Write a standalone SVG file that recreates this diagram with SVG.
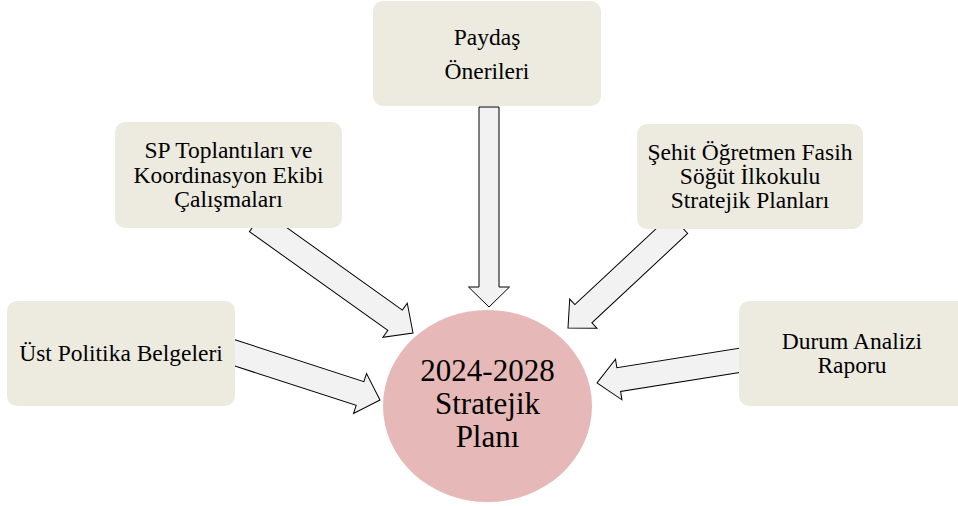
<svg xmlns="http://www.w3.org/2000/svg" width="958" height="506" viewBox="0 0 958 506">
<defs>
<style>
.box{fill:#EDEBE0;stroke:none}
.arrow{fill:#F2F2F2;stroke:#000;stroke-width:1;stroke-linejoin:miter}
.t{font-family:"Liberation Serif","Times New Roman",serif;font-size:23.5px;fill:#000;text-anchor:middle}
.c{font-family:"Liberation Serif","Times New Roman",serif;font-size:31px;fill:#000;text-anchor:middle}
</style>
</defs>
<rect width="958" height="506" fill="#fff"/>
<g id="connectors">
<polygon class="arrow" transform="translate(489,307) rotate(90)" points="-200,-10 -20,-10 -20,-20.5 0,0 -20,20.5 -20,10 -200,10"/>
<polygon class="arrow" transform="translate(413,333) rotate(35.5)" points="-192,-12.5 -22,-12.5 -22,-21 0,0 -22,21 -22,12.5 -192,12.5"/>
<polygon class="arrow" transform="translate(568,328) rotate(137)" points="-152,-12.5 -21,-12.5 -21,-20 0,0 -21,20 -21,12.5 -152,12.5"/>
<polygon class="arrow" transform="translate(380,400) rotate(18)" points="-160,-12.5 -21,-12.5 -21,-21 0,0 -21,21 -21,12.5 -160,12.5"/>
<polygon class="arrow" transform="translate(597,383) rotate(171)" points="-152,-12 -22,-12 -22,-20.5 0,0 -22,20.5 -22,12 -152,12"/>
</g>
<g id="paydas">
<rect class="box" x="373" y="1" width="228" height="105" rx="10"/>
<text class="t" x="487" y="45">Paydaş</text>
<text class="t" x="487" y="79">Önerileri</text>
</g>
<g id="sp">
<rect class="box" x="115" y="122" width="227" height="106" rx="10"/>
<text class="t" x="228.5" y="158">SP Toplantıları ve</text>
<text class="t" x="228.5" y="183">Koordinasyon Ekibi</text>
<text class="t" x="228.5" y="207">Çalışmaları</text>
</g>
<g id="sehit">
<rect class="box" x="637" y="124" width="226" height="105" rx="10"/>
<text class="t" x="750" y="160">Şehit Öğretmen Fasih</text>
<text class="t" x="750" y="184">Söğüt İlkokulu</text>
<text class="t" x="750" y="208">Stratejik Planları</text>
</g>
<g id="ust">
<rect class="box" x="7" y="301" width="228" height="105" rx="10"/>
<text class="t" x="121" y="361">Üst Politika Belgeleri</text>
</g>
<g id="durum">
<rect class="box" x="739" y="301" width="228" height="105" rx="10"/>
<text class="t" x="852" y="349">Durum Analizi</text>
<text class="t" x="852" y="373">Raporu</text>
</g>
<g id="plan">
<ellipse cx="487.5" cy="406" rx="104.5" ry="96" fill="#E6B8B7"/>
<text class="c" x="487.5" y="381">2024-2028</text>
<text class="c" x="487.5" y="414">Stratejik</text>
<text class="c" x="487.5" y="447">Planı</text>
</g>
</svg>
